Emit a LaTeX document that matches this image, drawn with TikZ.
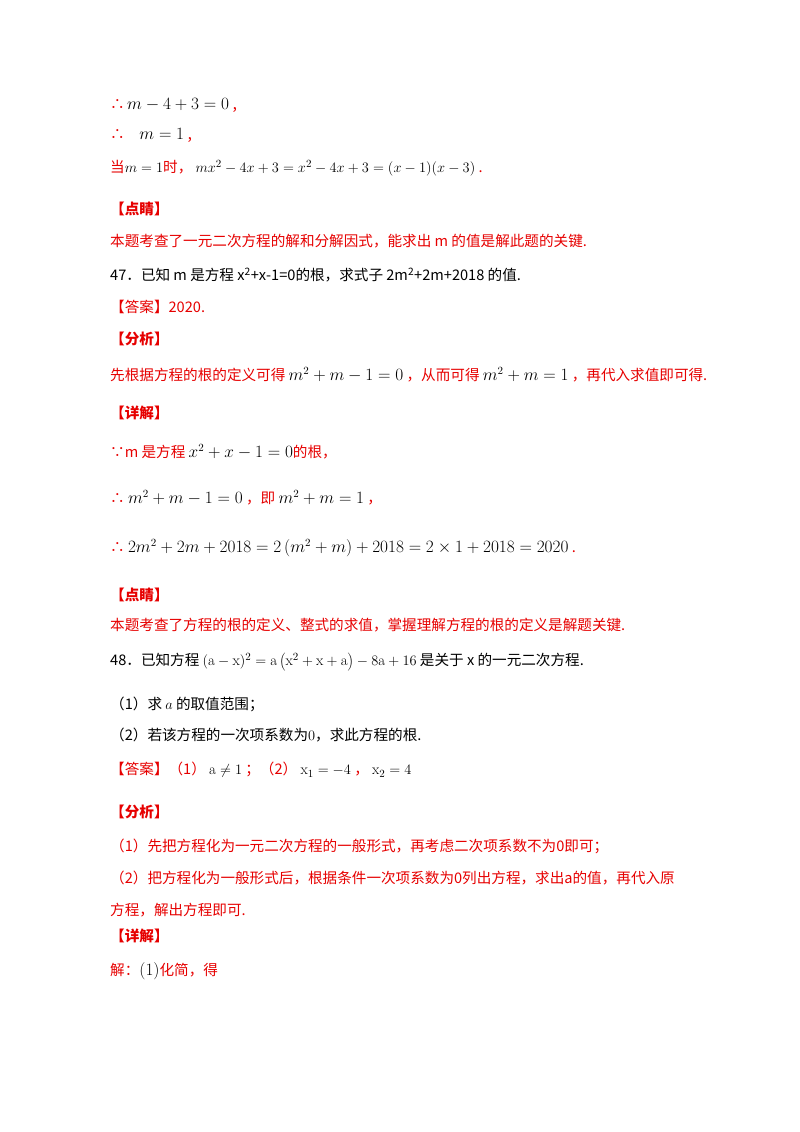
\documentclass[tikz,border=0pt]{standalone}
\usepackage{fontspec}
\newfontfamily\cjk{Noto Sans CJK SC}
\definecolor{rd}{RGB}{230,0,0}
\begin{document}
\begin{tikzpicture}[x=1pt,y=-1pt,
 t/.style={anchor=west,inner sep=0pt,font=\cjk\fontsize{14.6}{17}\selectfont},
 r/.style={t,text=rd},
 h/.style={t,text=rd,font=\cjk\bfseries\fontsize{14.6}{17}\selectfont}]
\useasboundingbox (0,0) rectangle (800,1132);
\node[t] (l1) at (110,105) {\textcolor{rd}{∴}\,\fontsize{16}{18}\selectfont$m-4+3=0$ \textcolor{rd}{,}};
\node[t] (l2) at (110,135) {\textcolor{rd}{∴}\quad\fontsize{16}{18}\selectfont$m=1$ \textcolor{rd}{,}};
\node[t] (l3) at (110,168) {\textcolor{rd}{当}$m=1$\textcolor{rd}{时，} {\fontsize{15}{17}\selectfont$mx^2-4x+3=x^2-4x+3=(x-1)(x-3)$} \textcolor{rd}{.}};
\node[h] (d1) at (110,209) {【点睛】};
\node[r] (d1t) at (110,241) {本题考查了一元二次方程的解和分解因式，能求出 m 的值是解此题的关键.};
\node[t] (q47) at (110,275) {47．已知 \textit{m} 是方程 \textit{x}\textsuperscript{2}+\textit{x}-1=0的根，求式子 2\textit{m}\textsuperscript{2}+2\textit{m}+2018 的值.};
\node[r] (a47) at (110,307) {【答案】2020.};
\node[h] (f47) at (110,339) {【分析】};
\node[r] (f47t) at (110,375) {先根据方程的根的定义可得 {\color{black}\fontsize{16}{18}\selectfont$m^2+m-1=0$} ，从而可得 {\color{black}\fontsize{16}{18}\selectfont$m^2+m=1$} ，再代入求值即可得.};
\node[h] (x47) at (110,413) {【详解】};
\node[r] (s1) at (110,452) {∵m 是方程 {\color{black}\fontsize{16}{18}\selectfont$x^2+x-1=0$}的根，};
\node[r] (s2) at (110,498) {∴ {\color{black}\fontsize{16}{18}\selectfont$m^2+m-1=0$} ，即 {\color{black}\fontsize{16}{18}\selectfont$m^2+m=1$} ，};
\node[r] (s3) at (110,548) {∴ {\color{black}\fontsize{16}{18}\selectfont$2m^2+2m+2018=2\left(m^2+m\right)+2018=2\times1+2018=2020$} .};
\node[h] (d2) at (110,595) {【点睛】};
\node[r] (d2t) at (110,625) {本题考查了方程的根的定义、整式的求值，掌握理解方程的根的定义是解题关键.};
\node[t] (q48) at (110,662) {48．已知方程 {\fontsize{15}{17}\selectfont$(\mathrm{a}-\mathrm{x})^2=\mathrm{a}\left(\mathrm{x}^2+\mathrm{x}+\mathrm{a}\right)-8\mathrm{a}+16$} 是关于 x 的一元二次方程.};
\node[t] (q1) at (110,704) {（1）求 $a$ 的取值范围；};
\node[t] (q2) at (110,735) {（2）若该方程的一次项系数为$0$，求此方程的根.};
\node[r] (a48) at (110,770) {【答案】（1） {\color{black}\fontsize{15}{17}\selectfont$\mathrm{a}\neq1$} ；（2） {\color{black}\fontsize{15}{17}\selectfont$\mathrm{x}_1=-4$} ， {\color{black}\fontsize{15}{17}\selectfont$\mathrm{x}_2=4$}};
\node[h] (f48) at (110,812) {【分析】};
\node[r] (f1) at (110,846) {（1）先把方程化为一元二次方程的一般形式，再考虑二次项系数不为0即可；};
\node[r] (f2) at (110,878) {（2）把方程化为一般形式后，根据条件一次项系数为0列出方程，求出a的值，再代入原};
\node[r] (f3) at (110,910) {方程，解出方程即可.};
\node[h] (x48) at (110,936) {【详解】};
\node[r] (s4) at (110,971) {解：{\color{black}\fontsize{16}{18}\selectfont$(1)$}化简，得};
\end{tikzpicture}
\end{document}
